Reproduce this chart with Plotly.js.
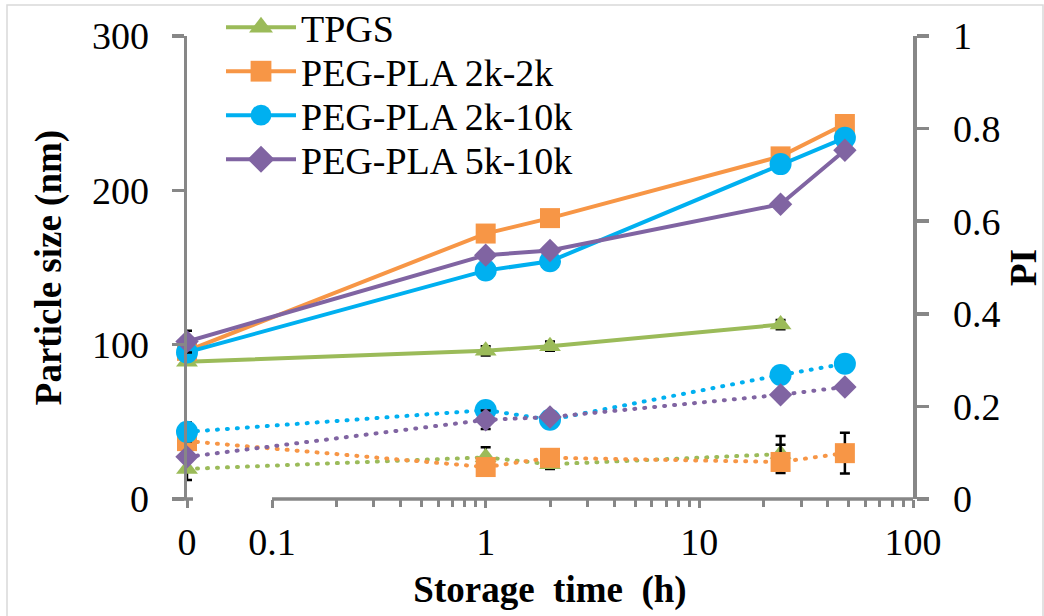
<!DOCTYPE html>
<html>
<head>
<meta charset="utf-8">
<script src="https://cdn.plot.ly/plotly-3.0.1.min.js"></script>
<style>
  html, body { margin: 0; padding: 0; background: #fff; }
  #chart { width: 1044px; height: 616px; }
  #chart .scatterlayer .js-line { stroke-linecap: round; }
</style>
</head>
<body>
<div id="chart"></div>
<script>
// Storage time (h). Time 0 is drawn on a short stub left of the broken log axis.
const times = [0, 1, 2, 24, 48];
const timesTPGS = [0, 1, 2, 24];
const ZERO_AT = 0.04;            // where t = 0 sits on the log axis
const xTickVals = [ZERO_AT, 0.1, 1, 10, 100];
const xTickText = ['0', '0.1', '1', '10', '100'];
const xMinorVals = [0.2, 0.3, 0.4, 0.5, 0.6, 0.7, 0.8, 0.9,
                    2, 3, 4, 5, 6, 7, 8, 9,
                    20, 30, 40, 50, 60, 70, 80, 90];

// Particle size (nm), left axis
const sizeTPGS    = [89, 96, 99, 113];
const size2k2k    = [96, 172, 182, 222, 243];
const size2k10k   = [95, 148, 154, 217, 234];
const size5k10k   = [102, 158, 161, 191, 226];
const sizeErrTPGS  = [2, 3, 3, 3];
const sizeErr2k2k  = [3, 3, 3, 3, 3];
const sizeErr2k10k = [3, 3, 3, 3, 3];
const sizeErr5k10k = [7, 3, 3, 3, 3];

// Polydispersity index, right axis
const piTPGS    = [0.065, 0.09, 0.075, 0.097];
const pi2k2k    = [0.125, 0.069, 0.089, 0.080, 0.099];
const pi2k10k   = [0.145, 0.192, 0.171, 0.268, 0.292];
const pi5k10k   = [0.091, 0.171, 0.177, 0.225, 0.242];
const piErrTPGS      = [0.024, 0.022, 0.01, 0.02];
const piErr2k2kUp    = [0.01, 0.01, 0.01, 0.056, 0.044];
const piErr2k2kDown  = [0.01, 0.01, 0.01, 0.024, 0.044];
const piErr2k10k     = [0.02, 0.01, 0.01, 0.01, 0.01];
const piErr5k10k     = [0.01, 0.02, 0.01, 0.01, 0.01];

const seriesNames = ['TPGS', 'PEG-PLA 2k-2k', 'PEG-PLA 2k-10k', 'PEG-PLA 5k-10k'];
const sizeTicks = [0, 100, 200, 300];
const piTicks = [0, 0.2, 0.4, 0.6, 0.8, 1];
const piTickText = ['0', '0.2', '0.4', '0.6', '0.8', '1'];

const GREEN = '#9BBB59', ORANGE = '#F79646', BLUE = '#00B0F0', PURPLE = '#8064A2';
const AXIS = '#878787';
const FONT = 'Liberation Serif, Times New Roman, serif';

const toAxis = t => t.map(v => (v === 0 ? ZERO_AT : v));

function errs(up, down) {
  const e = { type: 'data', array: up, color: '#000', thickness: 2.5, width: 5, visible: true };
  if (down) { e.symmetric = false; e.arrayminus = down; }
  return e;
}

function sizeTrace(name, t, y, err, color, symbol, msize) {
  return {
    type: 'scatter', mode: 'lines+markers', name: name,
    x: toAxis(t), y: y, xaxis: 'x', yaxis: 'y',
    line: { color: color, width: 4 },
    marker: { color: color, symbol: symbol, size: msize, line: { width: 0 } },
    error_y: errs(err), cliponaxis: false, showlegend: true
  };
}

function piTrace(name, t, y, up, down, color, symbol, msize) {
  return {
    type: 'scatter', mode: 'lines+markers', name: name + ' PI',
    x: toAxis(t), y: y, xaxis: 'x', yaxis: 'y2',
    line: { color: color, width: 4, dash: '1px,9px' },
    marker: { color: color, symbol: symbol, size: msize, line: { width: 0 } },
    error_y: errs(up, down), cliponaxis: false, showlegend: false
  };
}

const data = [
  sizeTrace(seriesNames[0], timesTPGS, sizeTPGS, sizeErrTPGS, GREEN, 'triangle-up', 19),
  sizeTrace(seriesNames[1], times, size2k2k, sizeErr2k2k, ORANGE, 'square', 20),
  sizeTrace(seriesNames[2], times, size2k10k, sizeErr2k10k, BLUE, 'circle', 22),
  sizeTrace(seriesNames[3], times, size5k10k, sizeErr5k10k, PURPLE, 'diamond', 18),
  piTrace(seriesNames[0], timesTPGS, piTPGS, piErrTPGS, null, GREEN, 'triangle-up', 19),
  piTrace(seriesNames[1], times, pi2k2k, piErr2k2kUp, piErr2k2kDown, ORANGE, 'square', 20),
  piTrace(seriesNames[2], times, pi2k10k, piErr2k10k, null, BLUE, 'circle', 22),
  piTrace(seriesNames[3], times, pi5k10k, piErr5k10k, null, PURPLE, 'diamond', 18)
];

// plot area geometry
const M = { l: 187, r: 131, t: 36, b: 117 };
const W = 1044, H = 616;
const PW = W - M.l - M.r, PH = H - M.t - M.b;
const xr = [Math.log10(ZERO_AT), 2];
const px2paper = px => (px - M.l) / PW;
const py2paper = py => (H - M.b - py) / PH;
const xPaper = v => (Math.log10(v) - xr[0]) / (xr[1] - xr[0]);

const shapes = [
  // outer frame of the chart
  { type: 'rect', xref: 'paper', yref: 'paper', layer: 'below',
    x0: px2paper(7), x1: px2paper(1043), y0: py2paper(640), y1: py2paper(5),
    line: { color: '#d9d9d9', width: 1.5 }, fillcolor: 'rgba(0,0,0,0)' },
  // x axis: stub carrying t = 0, then the log segment 0.1 – 100
  { type: 'line', xref: 'paper', yref: 'paper', layer: 'above',
    x0: px2paper(M.l - 7), x1: px2paper(M.l + 6), y0: 0, y1: 0,
    line: { color: AXIS, width: 3.5 } },
  { type: 'line', xref: 'paper', yref: 'paper', layer: 'above',
    x0: xPaper(0.1), x1: 1, y0: 0, y1: 0,
    line: { color: AXIS, width: 3.5 } }
];

const tickFont = { family: FONT, size: 38, color: '#000' };
const titleFont = { family: FONT, size: 37, color: '#000', weight: 'bold' };

const layout = {
  width: W, height: H,
  margin: { l: M.l, r: M.r, t: M.t, b: M.b, pad: 0, autoexpand: false },
  paper_bgcolor: '#fff', plot_bgcolor: '#fff',
  font: { family: FONT, color: '#000' },
  showlegend: true,
  legend: {
    x: px2paper(221), y: py2paper(-4), xanchor: 'left', yanchor: 'top',
    font: { family: FONT, size: 38, color: '#000' },
    bgcolor: 'rgba(0,0,0,0)', borderwidth: 0, itemwidth: 70, tracegroupgap: 0
  },
  xaxis: {
    type: 'log', range: xr, automargin: false,
    tickmode: 'array', tickvals: xTickVals, ticktext: xTickText,
    ticks: 'outside', ticklen: 8, tickwidth: 3, tickcolor: AXIS,
    minor: { tickmode: 'array', tickvals: xMinorVals, ticks: 'outside', ticklen: 7, tickwidth: 3, tickcolor: AXIS, showgrid: false },
    showline: false, showgrid: false, zeroline: false,
    tickfont: tickFont, ticklabelstandoff: 1,
    title: { text: 'Storage\u00a0 time\u00a0 (h)', font: titleFont, standoff: 14 }
  },
  yaxis: {
    range: [0, 300], automargin: false,
    tickmode: 'array', tickvals: sizeTicks,
    ticks: 'outside', ticklen: 12, tickwidth: 3.5, tickcolor: AXIS,
    showline: true, linewidth: 3.5, linecolor: AXIS,
    showgrid: false, zeroline: false,
    tickfont: tickFont, ticklabelstandoff: 15,
    title: { text: 'Particle size (nm)', font: titleFont, standoff: 20 }
  },
  yaxis2: {
    range: [0, 1], overlaying: 'y', side: 'right', automargin: false,
    tickmode: 'array', tickvals: piTicks, ticktext: piTickText,
    ticks: 'outside', ticklen: 12, tickwidth: 3.5, tickcolor: AXIS,
    showline: true, linewidth: 3.5, linecolor: AXIS,
    showgrid: false, zeroline: false,
    tickfont: tickFont, ticklabelstandoff: 17,
    title: { text: 'PI', font: titleFont, standoff: 22 }
  },
  shapes: shapes
};

// Legend rows sit closer together than Plotly's default line height,
// and the legend symbols are drawn a bit larger than its 16px cap.
const LEGEND_ROW = 44;
const LEGEND_MARKER_SCALE = 1.3;

Plotly.newPlot('chart', data, layout, { displayModeBar: false, staticPlot: true }).then(gd => {
  const rows = gd.querySelectorAll('.legend .traces');
  let y0 = null;
  rows.forEach((g, i) => {
    const m = /translate\(\s*([-\d.e]+)[ ,]+([-\d.e]+)\s*\)/.exec(g.getAttribute('transform') || '');
    if (!m) return;
    const x = parseFloat(m[1]), y = parseFloat(m[2]);
    if (y0 === null) y0 = y;
    g.setAttribute('transform', 'translate(' + x + ',' + (y0 + i * LEGEND_ROW) + ')');
  });
  gd.querySelectorAll('.legend .legendpoints path.scatterpts').forEach(p => {
    const t = p.getAttribute('transform') || '';
    p.setAttribute('transform', t + ' scale(' + LEGEND_MARKER_SCALE + ')');
  });
});
</script>
</body>
</html>
